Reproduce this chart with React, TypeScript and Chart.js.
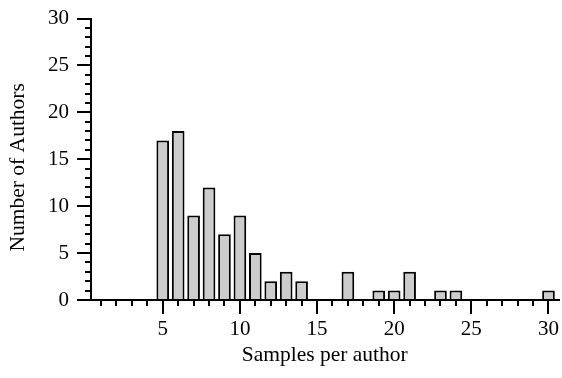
import React, { useEffect, useRef } from "react";
import { Chart, registerables } from "chart.js";

Chart.register(...registerables);

const samples = [5, 6, 7, 8, 9, 10, 11, 12, 13, 14, 17, 19, 20, 21, 23, 24, 30];
const authors = [17, 18, 9, 12, 7, 9, 5, 2, 3, 2, 3, 1, 1, 3, 1, 1, 1];
const xMajorTicks = [5, 10, 15, 20, 25, 30];
const yMajorTicks = [0, 5, 10, 15, 20, 25, 30];
const xMinorTicks = [1, 2, 3, 4, 6, 7, 8, 9, 11, 12, 13, 14, 16, 17, 18, 19, 21, 22, 23, 24, 26, 27, 28, 29];
const yMinorTicks = [1, 2, 3, 4, 6, 7, 8, 9, 11, 12, 13, 14, 16, 17, 18, 19, 21, 22, 23, 24, 26, 27, 28, 29];

const FONT = "'Liberation Serif', 'Times New Roman', serif";

const minorTickPlugin = {
  id: "minorTicks",
  afterDraw(chart: any) {
    const ctx = chart.ctx;
    const xs = chart.scales.x;
    const ys = chart.scales.y;
    const area = chart.chartArea;
    ctx.save();
    ctx.strokeStyle = "#000";
    ctx.lineWidth = 2;
    ctx.beginPath();
    xMinorTicks.forEach((v) => {
      const px = Math.round(xs.getPixelForValue(v));
      ctx.moveTo(px, area.bottom);
      ctx.lineTo(px, area.bottom + 6);
    });
    yMinorTicks.forEach((v) => {
      const py = Math.round(ys.getPixelForValue(v));
      ctx.moveTo(area.left, py);
      ctx.lineTo(area.left - 6, py);
    });
    ctx.stroke();
    ctx.restore();
  },
};

export default function App() {
  const ref = useRef<HTMLCanvasElement | null>(null);
  useEffect(() => {
    if (!ref.current) return;
    const chart = new Chart(ref.current, {
      type: "bar",
      data: {
        datasets: [
          {
            data: samples.map((s, i) => ({ x: s, y: authors[i] })),
            backgroundColor: "#cccccc",
            borderColor: "#000000",
            borderWidth: 2,
            categoryPercentage: 1,
            barPercentage: 0.82,
          },
        ],
      },
      options: {
        responsive: false,
        animation: false,
        layout: { padding: { top: 16, right: 1, left: 0, bottom: 0 } },
        plugins: { legend: { display: false }, tooltip: { enabled: false } },
        scales: {
          x: {
            type: "linear",
            min: 0.35,
            max: 30.65,
            offset: false,
            afterBuildTicks: (s: any) => {
              s.ticks = xMajorTicks.map((v) => ({ value: v }));
            },
            afterFit: (s: any) => {
              s.height = 78;
            },
            grid: {
              display: true,
              offset: false,
              drawOnChartArea: false,
              drawTicks: true,
              tickLength: 14,
              color: "#000",
              lineWidth: 2,
            },
            border: { display: true, color: "#000", width: 2 },
            ticks: {
              color: "#000",
              padding: 3,
              maxRotation: 0,
              autoSkip: false,
              font: { family: FONT, size: 21 },
            },
            title: {
              display: true,
              text: "Samples per author",
              color: "#000",
              font: { family: FONT, size: 21.5 },
              padding: { top: 0, bottom: 10 },
            },
          },
          y: {
            type: "linear",
            min: 0,
            max: 30,
            afterBuildTicks: (s: any) => {
              s.ticks = yMajorTicks.map((v) => ({ value: v }));
            },
            afterFit: (s: any) => {
              s.width = 91;
            },
            grid: {
              display: true,
              offset: false,
              drawOnChartArea: false,
              drawTicks: true,
              tickLength: 14,
              color: "#000",
              lineWidth: 2,
            },
            border: { display: true, color: "#000", width: 2 },
            ticks: {
              color: "#000",
              padding: 8,
              font: { family: FONT, size: 21, lineHeight: 1 },
            },
            title: {
              display: true,
              text: "Number of Authors   ",
              color: "#000",
              font: { family: FONT, size: 21.5 },
              padding: { top: 5, bottom: 0 },
            },
          },
        },
      },
      plugins: [minorTickPlugin],
    } as any);
    return () => chart.destroy();
  }, []);
  return (
    <div style={{ position: "absolute", left: 0, top: 0, width: 562, height: 378, background: "#fff" }}>
      <canvas ref={ref} width={562} height={378} style={{ display: "block" }} />
    </div>
  );
}
